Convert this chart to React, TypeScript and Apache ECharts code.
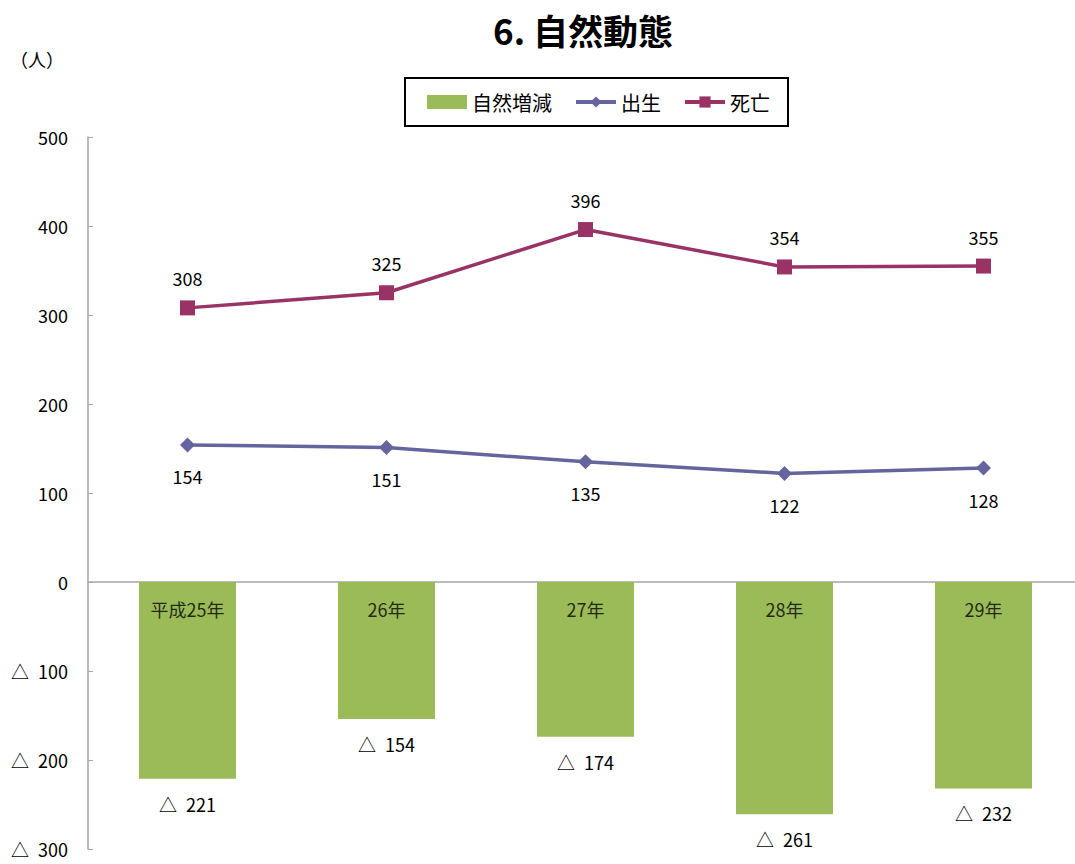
import React, { useEffect, useRef } from "react";
import * as echarts from "echarts";

const categories = ["平成25年", "26年", "27年", "28年", "29年"];
const naturalChange = [-221, -154, -174, -261, -232];
const births = [154, 151, 135, 122, 128];
const deaths = [308, 325, 396, 354, 355];

const FONT = '"Noto Sans CJK JP", "Noto Sans", sans-serif';

export default function App() {
  const ref = useRef<HTMLDivElement>(null);
  useEffect(() => {
    document.body.style.overflow = "hidden";
    const chart = echarts.init(ref.current!, undefined, { renderer: "svg" });
    const tri = (v: number) => (v < 0 ? "△\u2002" + Math.abs(v) : String(v));
    chart.setOption({
      animation: false,
      textStyle: { fontFamily: FONT },
      title: {
        text: "6. 自然動態",
        left: 578,
        textAlign: "center",
        top: 7,
        textStyle: { fontFamily: FONT, fontSize: 35, fontWeight: "bold", color: "#000" },
      },
      graphic: [
        {
          type: "text",
          left: 10,
          top: 50,
          style: { text: "（人）", fontFamily: FONT, fontSize: 18, fill: "#000" },
        },
      ],
      legend: {
        left: 405,
        top: 78,
        padding: [14, 18, 14, 22],
        borderColor: "#000",
        borderWidth: 2,
        itemWidth: 40,
        itemHeight: 14,
        itemGap: 22,
        lineStyle: { width: 4 },
        textStyle: { fontFamily: FONT, fontSize: 20, color: "#000" },
        data: [
          { name: "自然増減", icon: "rect", itemStyle: { color: "#9BBB59" } },
          { name: "出生" },
          { name: "死亡" },
        ],
      },
      grid: {
        left: 88,
        right: 0,
        top: 137,
        bottom: 15,
        containLabel: false,
        outerBoundsMode: "none",
      },
      xAxis: {
        type: "category",
        data: categories,
        axisLine: { onZero: true, lineStyle: { color: "#a6a6a6", width: 1.5 } },
        axisTick: { inside: true, length: 5, lineStyle: { color: "#a6a6a6" } },
        axisLabel: { show: false },
      },
      yAxis: {
        type: "value",
        min: -300,
        max: 500,
        interval: 100,
        splitLine: { show: false },
        axisLine: { show: true, lineStyle: { color: "#a6a6a6", width: 1.5 } },
        axisTick: { show: true, inside: true, length: 5, lineStyle: { color: "#a6a6a6" } },
        axisLabel: { margin: 20, fontFamily: FONT, fontSize: 18, color: "#000", formatter: tri },
      },
      series: [
        {
          name: "自然増減",
          type: "bar",
          data: naturalChange,
          barWidth: 97,
          itemStyle: { color: "#9BBB59" },
          label: {
            show: true,
            position: "bottom",
            distance: 16,
            fontFamily: FONT,
            fontSize: 18,
            color: "#000",
            formatter: (p: any) => tri(p.value),
          },
        },
        {
          name: "categoryLabels",
          type: "scatter",
          data: categories.map(() => 0),
          symbolSize: 1,
          silent: true,
          itemStyle: { color: "rgba(0,0,0,0)" },
          label: {
            show: true,
            position: "bottom",
            distance: 17,
            fontFamily: FONT,
            fontSize: 18,
            color: "#000",
            formatter: (p: any) => categories[p.dataIndex],
          },
          z: 6,
        },
        {
          name: "出生",
          type: "line",
          data: births,
          symbol: "diamond",
          symbolSize: 15,
          lineStyle: { color: "#64649E", width: 3.5 },
          itemStyle: { color: "#64649E" },
          label: {
            show: true,
            position: "bottom",
            distance: 15,
            fontFamily: FONT,
            fontSize: 18,
            color: "#000",
          },
          z: 5,
        },
        {
          name: "死亡",
          type: "line",
          data: deaths,
          symbol: "rect",
          symbolSize: 15,
          lineStyle: { color: "#993366", width: 3.5 },
          itemStyle: { color: "#993366" },
          label: {
            show: true,
            position: "top",
            distance: 13,
            fontFamily: FONT,
            fontSize: 18,
            color: "#000",
          },
          z: 5,
        },
      ],
    });
    return () => chart.dispose();
  }, []);
  return (
    <div
      ref={ref}
      style={{ position: "fixed", left: 0, top: 0, width: 1083, height: 864, background: "#fff" }}
    />
  );
}
